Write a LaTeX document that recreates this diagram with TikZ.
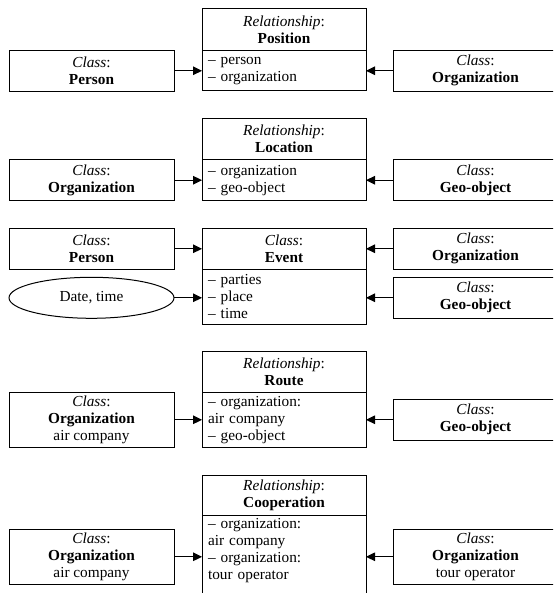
\documentclass[tikz,border=0pt]{standalone}
\usepackage{fontspec}
\setmainfont{Liberation Serif}
\usetikzlibrary{shapes.geometric,arrows.meta}
\begin{document}
\begin{tikzpicture}[x=1pt,y=-1pt,
  every node/.style={font=\fontsize{15.3}{17}\selectfont, inner sep=0pt, outer sep=0pt},
  cls/.style={draw, line width=1pt, rectangle, align=center, minimum width=165pt, minimum height=41pt},
  clsiii/.style={cls, minimum height=55pt},
  hdr/.style={draw, line width=1pt, align=center, minimum width=164pt, anchor=north},
  body/.style={draw, line width=1pt, align=left, text width=152pt, inner xsep=6pt, minimum width=164pt, anchor=north},
  oval/.style={draw, ellipse, line width=1pt, minimum width=165pt, minimum height=41pt},
  arr/.style={-{Triangle[length=9pt,width=8.5pt]}, line width=1.3pt}
]
\useasboundingbox (0,0) rectangle (553,593);
\clip (0,0) rectangle (553,593);

% ---- Position
\node[hdr, minimum height=41.7pt] (h1) at (284,9) {\textit{Relationship}:\\\textbf{Position}};
\node[body, minimum height=40.3pt] (b1) at (h1.south) {-- person\\-- organization};
\node[cls] (L1) at (91.5,70.8) {\textit{Class}:\\\textbf{Person}};
\node[cls] (R1) at (475.5,70.8) {\textit{Class}:\\\textbf{Organization}};
\draw[arr] (L1.east) -- (b1.west |- L1.east);
\draw[arr] (R1.west) -- (b1.east |- R1.west);

% ---- Location
\node[hdr, minimum height=41pt] (h2) at (284,118.3) {\textit{Relationship}:\\\textbf{Location}};
\node[body, minimum height=41.7pt] (b2) at (h2.south) {-- organization\\-- geo-object};
\node[cls] (L2) at (91.5,180.2) {\textit{Class}:\\\textbf{Organization}};
\node[cls] (R2) at (475.5,180.2) {\textit{Class}:\\\textbf{Geo-object}};
\draw[arr] (L2.east) -- (b2.west |- L2.east);
\draw[arr] (R2.west) -- (b2.east |- R2.west);

% ---- Event
\node[hdr, minimum height=41pt] (h3) at (284,228.3) {\textit{Class}:\\\textbf{Event}};
\node[body, minimum height=54.7pt] (b3) at (h3.south) {-- parties\\-- place\\-- time};
\node[cls] (L3) at (91.5,248.8) {\textit{Class}:\\\textbf{Person}};
\node[oval] (E3) at (91.5,297.8) {Date, time};
\node[cls] (R3a) at (475.5,248.8) {\textit{Class}:\\\textbf{Organization}};
\node[cls] (R3b) at (475.5,297.8) {\textit{Class}:\\\textbf{Geo-object}};
\draw[arr] (L3.east) -- (h3.west |- L3.east);
\draw[arr] (E3.east) -- (b3.west |- E3.east);
\draw[arr] (R3a.west) -- (h3.east |- R3a.west);
\draw[arr] (R3b.west) -- (b3.east |- R3b.west);

% ---- Route
\node[hdr, minimum height=40.6pt] (h4) at (284,351.7) {\textit{Relationship}:\\\textbf{Route}};
\node[body, minimum height=55pt] (b4) at (h4.south) {-- organization:\\air company\\-- geo-object};
\node[clsiii] (L4) at (91.5,419.8) {\textit{Class}:\\\textbf{Organization}\\air company};
\node[cls] (R4) at (475.5,419.8) {\textit{Class}:\\\textbf{Geo-object}};
\draw[arr] (L4.east) -- (b4.west |- L4.east);
\draw[arr] (R4.west) -- (b4.east |- R4.west);

% ---- Cooperation
\node[hdr, minimum height=40.7pt] (h5) at (284,475) {\textit{Relationship}:\\\textbf{Cooperation}};
\node[body, minimum height=87.6pt] (b5) at (h5.south) {-- organization:\\air company\\-- organization:\\tour operator\\\strut};
\node[clsiii] (L5) at (91.5,556.8) {\textit{Class}:\\\textbf{Organization}\\air company};
\node[clsiii] (R5) at (475.5,556.8) {\textit{Class}:\\\textbf{Organization}\\tour operator};
\draw[arr] (L5.east) -- (b5.west |- L5.east);
\draw[arr] (R5.west) -- (b5.east |- R5.west);
\end{tikzpicture}
\end{document}
